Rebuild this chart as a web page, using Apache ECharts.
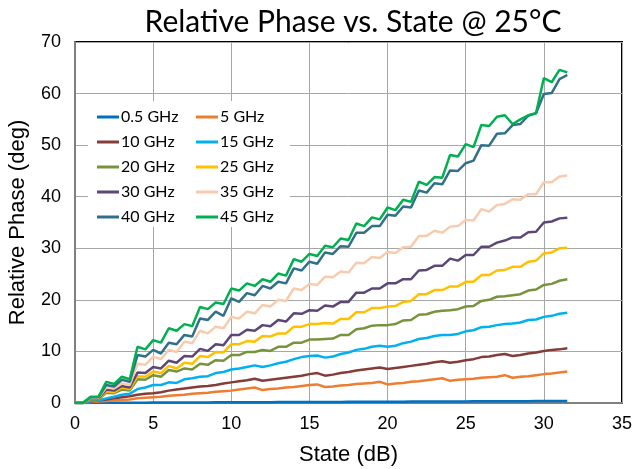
<!DOCTYPE html>
<html>
<head>
<meta charset="utf-8">
<script src="https://cdn.jsdelivr.net/npm/echarts@6/dist/echarts.min.js"></script>
<style>html,body{margin:0;padding:0;background:#fff}#c{width:634px;height:469px}</style>
</head>
<body>
<div id="c"></div>
<script>
// States 0 .. 31.5 dB, step 0.5
const states = [0,0.5,1,1.5,2,2.5,3,3.5,4,4.5,5,5.5,6,6.5,7,7.5,8,8.5,9,9.5,10,10.5,11,11.5,12,12.5,13,13.5,14,14.5,15,15.5,16,16.5,17,17.5,18,18.5,19,19.5,20,20.5,21,21.5,22,22.5,23,23.5,24,24.5,25,25.5,26,26.5,27,27.5,28,28.5,29,29.5,30,30.5,31,31.5];
const seriesNames = ['0.5 GHz','5 GHz','10 GHz','15 GHz','20 GHz','25 GHz','30 GHz','35 GHz','40 GHz','45 GHz'];
const f0_5 = [0,0,0,0.02,0.03,0.04,0.05,0.05,0.06,0.07,0.08,0.08,0.09,0.1,0.1,0.11,0.12,0.12,0.13,0.14,0.14,0.15,0.16,0.16,0.15,0.16,0.17,0.18,0.18,0.19,0.2,0.2,0.19,0.2,0.21,0.22,0.22,0.23,0.24,0.25,0.24,0.25,0.26,0.27,0.27,0.28,0.29,0.3,0.29,0.3,0.31,0.32,0.32,0.33,0.34,0.35,0.34,0.35,0.36,0.37,0.38,0.39,0.4,0.4];
const f5 = [0,0,0.2,0.3,0.4,0.5,0.6,0.7,0.9,1.0,1.1,1.2,1.4,1.5,1.6,1.8,1.9,2.0,2.2,2.3,2.4,2.6,2.8,3.0,2.5,2.7,2.8,3.0,3.1,3.3,3.5,3.6,3.1,3.2,3.4,3.5,3.7,3.8,3.9,4.1,3.6,3.8,3.9,4.1,4.2,4.4,4.6,4.8,4.3,4.5,4.6,4.7,4.9,5.0,5.1,5.4,4.9,5.1,5.2,5.4,5.6,5.7,5.9,6.1];
const f10 = [0,0,0.3,0.5,0.7,0.9,1.1,1.3,1.6,1.8,1.9,2.1,2.4,2.6,2.8,3.0,3.2,3.3,3.5,3.8,4.0,4.2,4.4,4.7,4.3,4.5,4.7,4.9,5.1,5.3,5.6,5.8,5.3,5.5,5.8,6.0,6.3,6.5,6.7,6.9,6.6,6.8,7.0,7.2,7.4,7.6,7.9,8.1,7.8,8.0,8.3,8.5,8.9,9.0,9.3,9.5,9.1,9.3,9.6,9.8,10.1,10.3,10.4,10.6];
const f15 = [0,0,0.4,0.5,0.9,1.2,1.6,1.8,2.7,3.0,3.5,3.5,4.0,3.9,4.6,4.8,5.1,5.2,5.8,6.0,6.5,6.7,7.0,7.3,7.0,7.3,7.7,8.0,8.5,8.9,9.1,9.2,8.8,9.0,9.5,9.8,10.3,10.5,10.9,11.1,10.9,11.1,11.6,11.9,12.4,12.6,13.0,13.2,13.2,13.4,13.9,14.1,14.7,14.8,15.1,15.3,15.4,15.6,16.1,16.2,16.7,16.9,17.3,17.5];
const f20 = [0,0,0.7,0.7,2.0,1.9,2.6,2.4,4.6,4.5,5.4,5.1,6.4,6.1,6.7,6.5,7.6,7.4,8.3,8.2,9.3,9.3,9.9,9.9,10.3,10.1,10.9,10.9,11.7,11.7,12.3,12.3,12.4,12.5,13.2,13.2,14.3,14.5,15.0,15.1,15.1,15.3,16.0,16.1,17.1,17.2,17.7,17.9,18.0,18.2,18.7,18.8,19.8,20.0,20.6,20.7,20.9,21.1,21.8,22.0,22.9,23.1,23.7,24.0];
const f25 = [0,0,0.8,0.8,2.3,2.1,3.0,2.7,5.2,5.1,6.1,5.8,7.2,6.7,7.8,7.6,9.1,8.9,9.9,9.8,11.4,11.4,12.0,11.9,13.0,12.9,13.5,13.5,14.8,14.8,15.3,15.3,15.5,15.4,16.3,16.3,17.6,17.6,18.4,18.4,18.7,18.8,19.6,19.8,21.1,21.1,21.9,21.9,22.6,22.6,23.5,23.5,24.8,24.8,25.7,25.8,26.4,26.4,27.4,27.6,29.0,29.2,30.0,30.1];
const f30 = [0,0,0.9,0.9,2.6,2.4,3.3,3.0,5.9,5.8,7.0,6.7,8.2,7.8,9.1,9.0,10.5,10.1,11.4,11.2,13.2,13.2,14.2,14.0,15.1,14.9,16.1,15.8,17.4,17.3,18.0,17.9,18.9,18.7,19.6,19.6,21.4,21.4,22.2,22.2,23.2,23.2,24.0,24.0,25.7,25.8,26.6,26.6,28.0,27.6,28.7,28.7,30.3,30.3,31.1,31.5,32.1,32.1,33.1,33.2,35.0,35.2,35.8,35.9];
const f35 = [0,0,1.0,1.0,3.0,2.8,3.8,3.5,7.6,7.4,9.0,8.5,10.3,9.9,11.9,11.6,14.0,13.5,14.8,14.5,16.7,16.4,17.7,17.4,19.0,18.7,20.0,19.8,22.2,21.9,23.1,22.9,24.5,24.4,25.5,25.3,27.2,27.1,28.3,28.1,29.3,29.1,30.2,30.3,32.4,32.4,33.4,33.0,34.2,34.3,35.5,35.4,37.6,37.1,38.4,38.6,39.5,39.4,40.5,40.5,42.8,42.8,43.9,44.1];
const f40 = [0,0,1.1,1.1,3.5,3.2,4.5,4.1,9.3,9.0,10.3,9.6,11.7,11.4,13.2,12.9,16.4,16.1,17.7,16.9,20.3,19.6,21.3,20.9,22.7,22.2,23.5,23.2,26.1,25.7,27.4,27.0,29.2,28.9,30.4,30.3,33.0,33.0,34.3,34.3,36.5,36.3,38.1,37.9,41.2,40.8,42.6,42.4,45.1,45.0,46.5,47.0,50.0,49.9,52.2,52.3,53.9,54.1,55.7,56.2,59.9,60.1,62.8,63.6];
const f45 = [0,0,1.2,1.2,4.1,3.7,5.1,4.6,10.9,10.4,12.2,11.7,14.5,14.0,15.3,14.9,18.6,18.2,19.5,19.2,22.2,21.8,23.2,22.7,24.0,23.5,25.1,24.7,27.9,27.4,28.9,28.5,30.5,30.2,31.9,31.6,34.8,34.3,36.0,35.6,37.9,37.4,39.4,39.0,42.9,42.3,43.8,43.7,48.1,47.8,50.2,49.6,53.9,53.7,55.5,55.8,54.1,55.0,55.8,56.2,63.0,62.2,64.6,64.1];
const allValues = [f0_5,f5,f10,f15,f20,f25,f30,f35,f40,f45];
const colors = ['#0070C0','#ED7D31','#843C39','#00B0F0','#77933C','#FFC000','#5C4678','#F8CBAD','#31708A','#00B050'];
const xTicks = {min:0, max:35, interval:5};
const yTicks = {min:0, max:70, interval:10};

const series = seriesNames.map((n,i)=>({
  name:n, type:'line', symbol:'none', smooth:false,
  lineStyle:{width:2.5, color:colors[i]}, itemStyle:{color:colors[i]},
  data: states.map((s,k)=>[s, allValues[i][k]]),
  z: 2 + i*0.01
}));

const legendText = {fontFamily:'Lato, "Open Sans", sans-serif', fontSize:16, color:'#000', padding:[0,0,0,-3]};
const legendCommon = {orient:'vertical', top:109, itemGap:9, itemWidth:22, itemHeight:3, icon:'rect', textStyle:legendText, padding:0};
const chart = echarts.init(document.getElementById('c'), null, {renderer:'canvas'});
chart.setOption({
  animation:false,
  backgroundColor:'#fff',
  title:{text:'Relative Phase vs. State @ 25°C', left:348, textAlign:'center', top:2,
    textStyle:{fontFamily:'Lato, "Open Sans", sans-serif', fontSize:30, fontWeight:'normal', color:'#000'}},
  grid:{left:75, right:12, top:42, bottom:66, show:true, borderColor:'#000', borderWidth:2, backgroundColor:'transparent',
    containLabel:false, outerBoundsMode:'none'},
  graphic:[{type:'rect', shape:{x:88,y:101,width:202,height:126}, style:{fill:'#fff'}, z:3, silent:true}],
  legend:[
    Object.assign({data:seriesNames.filter((_,i)=>i%2===0), left:97}, legendCommon),
    Object.assign({data:seriesNames.filter((_,i)=>i%2===1), left:196}, legendCommon)
  ],
  xAxis:{type:'value', min:xTicks.min, max:xTicks.max, interval:xTicks.interval,
    name:'State (dB)', nameLocation:'middle', nameGap:41,
    nameTextStyle:{fontFamily:'"Liberation Sans", Arial, sans-serif', fontSize:22, color:'#000'},
    axisLine:{show:true, lineStyle:{color:'#808080', width:2}}, axisTick:{show:false},
    axisLabel:{fontFamily:'"Liberation Sans", Arial, sans-serif', fontSize:18, color:'#000', margin:12},
    splitLine:{show:true, lineStyle:{color:'#A6A6A6', width:1}}},
  yAxis:{type:'value', min:yTicks.min, max:yTicks.max, interval:yTicks.interval,
    name:'Relative Phase (deg)', nameLocation:'middle', nameGap:46, nameRotate:90,
    nameTextStyle:{fontFamily:'"Liberation Sans", Arial, sans-serif', fontSize:22, color:'#000'},
    axisLine:{show:true, lineStyle:{color:'#808080', width:2}}, axisTick:{show:false},
    axisLabel:{fontFamily:'"Liberation Sans", Arial, sans-serif', fontSize:18, color:'#000', margin:14},
    splitLine:{show:true, lineStyle:{color:'#A6A6A6', width:1}}},
  series: series
});
</script>
</body>
</html>
